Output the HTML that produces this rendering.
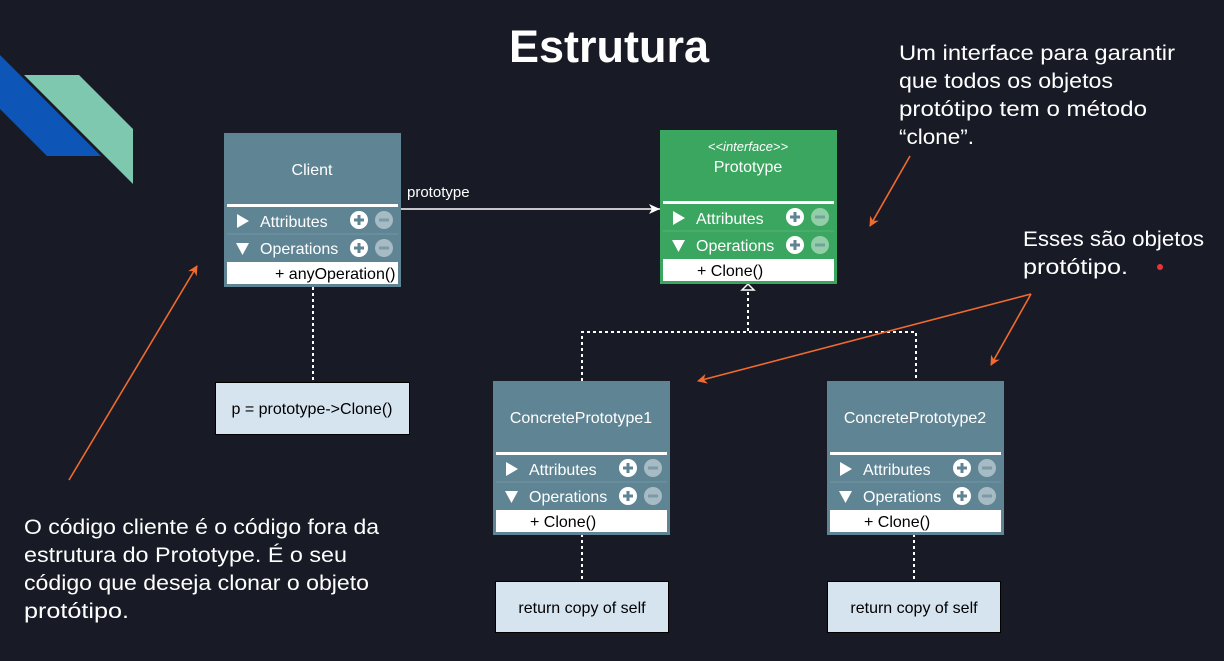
<!DOCTYPE html>
<html><head><meta charset="utf-8"><style>
html,body{margin:0;padding:0;background:#181b25;}
svg{display:block;}
.t{font-family:"Liberation Sans",sans-serif;}
.l{font-family:"Liberation Sans","DejaVu Sans",sans-serif;fill:#fff;font-size:21px;}
</style></head><body>
<svg width="1224" height="661" viewBox="0 0 1224 661" xmlns="http://www.w3.org/2000/svg">
<defs>
<marker id="oa" markerWidth="10" markerHeight="10" refX="9" refY="5" orient="auto" markerUnits="userSpaceOnUse">
<path d="M0,0 L10,5 L0,10 L3,5 Z" fill="#f26a2e"/></marker>
<marker id="wa" markerWidth="12" markerHeight="12" refX="11" refY="6" orient="auto" markerUnits="userSpaceOnUse">
<path d="M0,1 L11,6 L0,11 L3,6 Z" fill="#fff"/></marker>
<g id="rows">
<rect x="3" y="71" width="171" height="3" fill="#fff"/>
<line x1="3" y1="101" x2="174" y2="101" stroke="#ffffff" stroke-opacity="0.15"/>
<path d="M13,81 L25,88 L13,95 Z" fill="#fff"/>
<text class="t" x="36" y="94" font-size="16" fill="#fff">Attributes</text>
<circle cx="135" cy="87" r="9" fill="#fff"/><path d="M130,87h10M135,82v10" stroke="#5f8494" stroke-width="3"/>
<circle cx="160" cy="87" r="9" fill="#fff" fill-opacity="0.45"/><path d="M155,87h10" stroke="#5f8494" stroke-opacity="0.6" stroke-width="3"/>
<path d="M12,110 L25,110 L18.5,122 Z" fill="#fff"/>
<text class="t" x="36" y="121" font-size="16" fill="#fff">Operations</text>
<circle cx="135" cy="115" r="9" fill="#fff"/><path d="M130,115h10M135,110v10" stroke="#5f8494" stroke-width="3"/>
<circle cx="160" cy="115" r="9" fill="#fff" fill-opacity="0.45"/><path d="M155,115h10" stroke="#5f8494" stroke-opacity="0.6" stroke-width="3"/>
<rect x="3" y="129" width="171" height="22" fill="#fff"/>
</g>
</defs>

<polygon points="0,55 101,156 47,156 0,109" fill="#0e55b8"/>
<polygon points="24,75 79,75 133,129 133,184" fill="#7ec8b0"/>

<text x="609" y="62" text-anchor="middle" font-family="Liberation Sans,sans-serif" font-weight="bold" font-size="45" fill="#fff">Estrutura</text>

<g stroke="#fff" stroke-width="2" stroke-dasharray="3,3" fill="none">
<path d="M313,287 V382"/>
<path d="M748,292 V332 M582,381 V332 H916 V381"/>
<path d="M582,534 V581 M914,534 V581"/>
</g>
<path d="M742,290 L748,284 L754,290 Z" fill="#181b25" stroke="#fff" stroke-width="1.5"/>
<line x1="401" y1="209" x2="660" y2="209" stroke="#fff" stroke-width="1.5" marker-end="url(#wa)"/>
<text class="t" x="407" y="197" font-size="15" fill="#fff">prototype</text>

<g transform="translate(224,133)">
<rect x="0" y="0" width="177" height="154" fill="#5f8494"/>
<text class="t" x="88" y="42" font-size="16" fill="#fff" text-anchor="middle">Client</text>
<use href="#rows"/>
<text class="t" x="51" y="146" font-size="16" fill="#000">+ anyOperation()</text>
</g>
<g transform="translate(660,130)">
<rect x="0" y="0" width="177" height="154" fill="#3aa660"/>
<text class="t" x="88" y="21" font-size="13" font-style="italic" fill="#fff" text-anchor="middle">&lt;&lt;interface&gt;&gt;</text>
<text class="t" x="88" y="42" font-size="16" fill="#fff" text-anchor="middle">Prototype</text>
<use href="#rows"/>
<text class="t" x="37" y="146" font-size="16" fill="#000">+ Clone()</text>
</g>
<g transform="translate(493,381)">
<rect x="0" y="0" width="177" height="154" fill="#5f8494"/>
<text class="t" x="88" y="42" font-size="16" fill="#fff" text-anchor="middle">ConcretePrototype1</text>
<use href="#rows"/>
<text class="t" x="37" y="146" font-size="16" fill="#000">+ Clone()</text>
</g>
<g transform="translate(827,381)">
<rect x="0" y="0" width="177" height="154" fill="#5f8494"/>
<text class="t" x="88" y="42" font-size="16" fill="#fff" text-anchor="middle">ConcretePrototype2</text>
<use href="#rows"/>
<text class="t" x="37" y="146" font-size="16" fill="#000">+ Clone()</text>
</g>

<rect x="215.5" y="382.5" width="194" height="52" fill="#d6e4f0" stroke="#000"/>
<text class="t" x="312" y="414" font-size="16" fill="#000" text-anchor="middle">p = prototype-&gt;Clone()</text>
<rect x="495.5" y="581.5" width="173" height="51" fill="#d6e4f0" stroke="#000"/>
<text class="t" x="582" y="613" font-size="16" fill="#000" text-anchor="middle">return copy of self</text>
<rect x="827.5" y="581.5" width="173" height="51" fill="#d6e4f0" stroke="#000"/>
<text class="t" x="914" y="613" font-size="16" fill="#000" text-anchor="middle">return copy of self</text>

<g stroke="#f26a2e" stroke-width="1.6" fill="none">
<line x1="69" y1="480" x2="197" y2="266" marker-end="url(#oa)"/>
<line x1="910" y1="156" x2="870" y2="226" marker-end="url(#oa)"/>
<line x1="1031" y1="294" x2="698" y2="381" marker-end="url(#oa)"/>
<line x1="1031" y1="294" x2="991" y2="365" marker-end="url(#oa)"/>
</g>
<circle cx="1160" cy="267" r="3" fill="#e8323c"/>

<text class="l" x="899" y="60" textLength="276" lengthAdjust="spacingAndGlyphs">Um interface para garantir</text>
<text class="l" x="899" y="88" textLength="214" lengthAdjust="spacingAndGlyphs">que todos os objetos</text>
<text class="l" x="899" y="116" textLength="248" lengthAdjust="spacingAndGlyphs">protótipo tem o método</text>
<text class="l" x="899" y="144" textLength="75" lengthAdjust="spacingAndGlyphs">“clone”.</text>
<text class="l" x="1023" y="246" textLength="181" lengthAdjust="spacingAndGlyphs">Esses são objetos</text>
<text class="l" x="1023" y="274" textLength="105" lengthAdjust="spacingAndGlyphs">protótipo.</text>
<text class="l" x="24" y="534" textLength="355" lengthAdjust="spacingAndGlyphs">O código cliente é o código fora da</text>
<text class="l" x="24" y="562" textLength="323" lengthAdjust="spacingAndGlyphs">estrutura do Prototype. É o seu</text>
<text class="l" x="24" y="590" textLength="345" lengthAdjust="spacingAndGlyphs">código que deseja clonar o objeto</text>
<text class="l" x="24" y="618" textLength="105" lengthAdjust="spacingAndGlyphs">protótipo.</text>
</svg>
</body></html>
